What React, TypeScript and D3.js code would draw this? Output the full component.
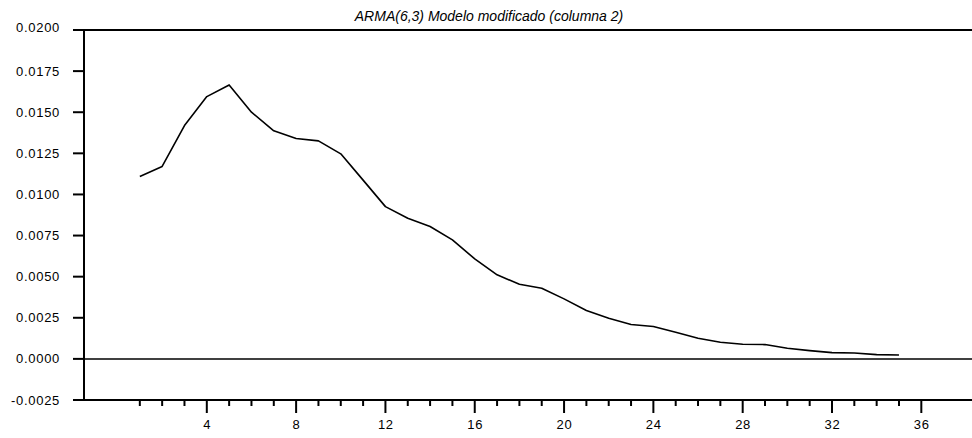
import React, { useEffect, useRef } from 'react';
import * as d3 from 'd3';

const periods: number[] = [
  1, 2, 3, 4, 5, 6, 7, 8, 9, 10, 11, 12, 13, 14, 15, 16, 17, 18,
  19, 20, 21, 22, 23, 24, 25, 26, 27, 28, 29, 30, 31, 32, 33, 34, 35,
];
const values: number[] = [
  0.01109, 0.0117, 0.01419, 0.01595, 0.01666, 0.0150, 0.01387, 0.0134, 0.01326,
  0.01247, 0.01087, 0.00926, 0.00855, 0.00805, 0.00724, 0.00608, 0.00511, 0.00454,
  0.0043, 0.00365, 0.00294, 0.00247, 0.00209, 0.00197, 0.00162, 0.00126, 0.00101,
  0.00089, 0.00087, 0.00065, 0.0005, 0.00038, 0.00036, 0.00026, 0.00024,
];
const yTicks: number[] = [-0.0025, 0, 0.0025, 0.005, 0.0075, 0.01, 0.0125, 0.015, 0.0175, 0.02];
const xMajorTicks: number[] = [4, 8, 12, 16, 20, 24, 28, 32, 36];
const xMinorTicks: number[] = [
  1, 2, 3, 5, 6, 7, 9, 10, 11, 13, 14, 15, 17, 18, 19, 21, 22, 23,
  25, 26, 27, 29, 30, 31, 33, 34, 35,
];
const title = 'ARMA(6,3) Modelo modificado (columna 2)';

const W = 972;
const H = 438;

export default function App() {
  const svgRef = useRef<SVGSVGElement>(null);

  useEffect(() => {
    if (!svgRef.current) return;
    const svg = d3.select(svgRef.current);
    svg.selectAll('*').remove();

    const left = 84;
    const top = 30;
    const bottom = 400;
    const font = 'Liberation Sans, Arial, sans-serif';

    const x = d3.scaleLinear().domain([-1.5, 38.27]).range([left, W]);
    const y = d3.scaleLinear().domain([-0.0025, 0.02]).range([bottom, top]);

    // title
    svg.append('text')
      .attr('x', 489)
      .attr('y', 21)
      .attr('text-anchor', 'middle')
      .attr('font-family', font)
      .attr('font-style', 'italic')
      .attr('font-size', '14px')
      .attr('fill', '#000')
      .text(title);

    // frame lines
    svg.append('line')
      .attr('x1', left - 11).attr('x2', W)
      .attr('y1', top).attr('y2', top)
      .attr('stroke', '#000').attr('stroke-width', 2);
    svg.append('line')
      .attr('x1', left).attr('x2', left)
      .attr('y1', top).attr('y2', bottom)
      .attr('stroke', '#000').attr('stroke-width', 2);
    svg.append('line')
      .attr('x1', left).attr('x2', W)
      .attr('y1', bottom).attr('y2', bottom)
      .attr('stroke', '#000').attr('stroke-width', 2);
    // zero line
    svg.append('line')
      .attr('x1', left).attr('x2', W)
      .attr('y1', y(0)).attr('y2', y(0))
      .attr('stroke', '#000').attr('stroke-width', 1.5);

    // y ticks
    const yg = svg.append('g');
    yg.selectAll('line')
      .data(yTicks)
      .enter()
      .append('line')
      .attr('x1', left - 11).attr('x2', left)
      .attr('y1', d => y(d)).attr('y2', d => y(d))
      .attr('stroke', '#000').attr('stroke-width', 2);
    yg.selectAll('text')
      .data(yTicks)
      .enter()
      .append('text')
      .attr('x', 60)
      .attr('y', d => y(d) + (d === 0.02 ? 2 : 4.5))
      .attr('text-anchor', 'end')
      .attr('font-family', font)
      .attr('font-size', '13px')
      .attr('letter-spacing', '0.7px')
      .attr('fill', '#000')
      .text(d => d3.format('.4f')(d).replace('−', '-'));

    // x ticks
    const xg = svg.append('g');
    xg.selectAll('line.minor')
      .data(xMinorTicks)
      .enter()
      .append('line')
      .attr('class', 'minor')
      .attr('x1', d => x(d)).attr('x2', d => x(d))
      .attr('y1', bottom).attr('y2', bottom + 6)
      .attr('stroke', '#000').attr('stroke-width', 2);
    xg.selectAll('line.major')
      .data(xMajorTicks)
      .enter()
      .append('line')
      .attr('class', 'major')
      .attr('x1', d => x(d)).attr('x2', d => x(d))
      .attr('y1', bottom).attr('y2', bottom + 13)
      .attr('stroke', '#000').attr('stroke-width', 2);
    xg.selectAll('text')
      .data(xMajorTicks)
      .enter()
      .append('text')
      .attr('x', d => x(d) + 0.4)
      .attr('y', 428.5)
      .attr('text-anchor', 'middle')
      .attr('font-family', font)
      .attr('font-size', '13px')
      .attr('letter-spacing', '0.7px')
      .attr('fill', '#000')
      .text(d => String(d));

    // series line
    const line = d3.line<number>()
      .x((_, i) => x(periods[i]))
      .y(d => y(d));
    svg.append('path')
      .datum(values)
      .attr('d', line)
      .attr('fill', 'none')
      .attr('stroke', '#000')
      .attr('stroke-width', 1.6)
      .attr('stroke-linejoin', 'round');
  }, []);

  return (
    <div style={{ position: 'absolute', left: 0, top: 0, width: W, height: H, background: '#fff' }}>
      <svg ref={svgRef} width={W} height={H} viewBox={`0 0 ${W} ${H}`} style={{ display: 'block' }} />
    </div>
  );
}
